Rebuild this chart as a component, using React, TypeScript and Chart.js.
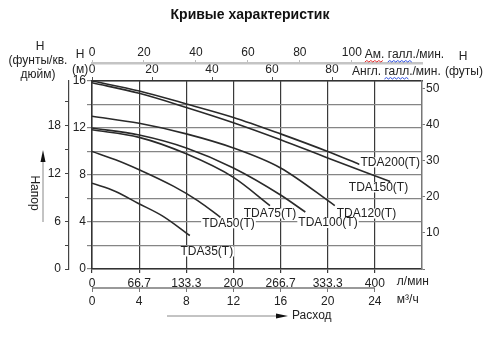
import React, { useEffect, useRef } from "react";
import { Chart, registerables } from "chart.js";

Chart.register(...registerables);

// ---- axis ticks ----
const FLOW_TICKS = [0, 4, 8, 12, 16, 20, 24]; // m3/h
const LPM_LABELS = ["0", "66.7", "133.3", "200", "266.7", "333.3", "400"]; // l/min
const HEAD_M_TICKS = [0, 2, 4, 6, 8, 10, 12, 14, 16];
const PSI_TICKS = [0, 3, 6, 9, 12, 15, 18, 21];
const FT_TICKS = [0, 10, 20, 30, 40, 50];
const IGPM_TICKS = [0, 20, 40, 60, 80];
const USGPM_TICKS = [0, 20, 40, 60, 80, 100];

// ---- series (flow m3/h, head m) ----
const MODELS = ["TDA200(T)", "TDA150(T)", "TDA120(T)", "TDA100(T)", "TDA75(T)", "TDA50(T)", "TDA35(T)"];
const TDA200_FLOW = [0, 4, 8, 12, 16, 20, 22.7];
const TDA200_HEAD = [16, 15.15, 14.05, 12.9, 11.5, 10.0, 8.9];
const TDA150_FLOW = [0, 4, 8, 12, 16, 20, 25.3];
const TDA150_HEAD = [15.85, 14.95, 13.75, 12.45, 11.0, 9.45, 7.45];
const TDA120_FLOW = [0, 4, 8, 12, 16, 20.6];
const TDA120_HEAD = [13.0, 12.4, 11.5, 10.3, 8.6, 5.4];
const TDA100_FLOW = [0, 4, 8, 12, 16, 18.1];
const TDA100_HEAD = [12.0, 11.4, 10.3, 8.6, 6.3, 4.85];
const TDA75_FLOW = [0, 4, 8, 12, 15.1];
const TDA75_HEAD = [11.85, 11.2, 9.8, 7.8, 5.4];
const TDA50_FLOW = [0, 2, 4, 6.9, 9, 10.9];
const TDA50_HEAD = [10.0, 9.3, 8.45, 7.05, 5.8, 4.4];
const TDA35_FLOW = [0, 2, 3.9, 6, 8.3];
const TDA35_HEAD = [7.3, 6.6, 5.6, 4.5, 2.85];

const SERIES_FLOW = [TDA200_FLOW, TDA150_FLOW, TDA120_FLOW, TDA100_FLOW, TDA75_FLOW, TDA50_FLOW, TDA35_FLOW];
const SERIES_HEAD = [TDA200_HEAD, TDA150_HEAD, TDA120_HEAD, TDA100_HEAD, TDA75_HEAD, TDA50_HEAD, TDA35_HEAD];

// label placement relative to the end of each curve (pixels)
const LABEL_PLACE: { align: CanvasTextAlign; dx: number; dy: number }[] = [
  { align: "left", dx: 1, dy: -2 },
  { align: "right", dx: 18, dy: 6 },
  { align: "left", dx: 2, dy: 8 },
  { align: "left", dx: -7, dy: 11 },
  { align: "center", dx: 0, dy: 8 },
  { align: "center", dx: 8, dy: 6 },
  { align: "center", dx: 17, dy: 16 },
];

const FONT = "'Liberation Sans', Arial, sans-serif";
const TXT = "#222";

function fixTicks(values: number[]) {
  return (s: any) => {
    s.ticks = values.map((v) => ({ value: v }));
  };
}

function squiggle(ctx: CanvasRenderingContext2D, x1: number, x2: number, y: number, color: string) {
  ctx.save();
  ctx.strokeStyle = color;
  ctx.lineWidth = 1;
  ctx.beginPath();
  let up = true;
  ctx.moveTo(x1, y);
  for (let x = x1 + 2; x <= x2; x += 2) {
    ctx.lineTo(x, up ? y - 1.5 : y);
    up = !up;
  }
  ctx.stroke();
  ctx.restore();
}

const annotPlugin = {
  id: "annot",
  afterDatasetsDraw(chart: any) {
    const ctx: CanvasRenderingContext2D = chart.ctx;
    const xs = chart.scales.x;
    const ys = chart.scales.y;
    ctx.save();
    ctx.font = `12px ${FONT}`;
    ctx.textBaseline = "middle";
    MODELS.forEach((name, i) => {
      const fl = SERIES_FLOW[i];
      const hd = SERIES_HEAD[i];
      const px = xs.getPixelForValue(fl[fl.length - 1]);
      const py = ys.getPixelForValue(hd[hd.length - 1]);
      const p = LABEL_PLACE[i];
      const w = ctx.measureText(name).width;
      const tx = px + p.dx;
      const ty = py + p.dy;
      let left = tx;
      if (p.align === "center") left = tx - w / 2;
      if (p.align === "right") left = tx - w;
      ctx.fillStyle = "#fff";
      ctx.fillRect(left - 1, ty - 5, w + 2, 10);
      ctx.fillStyle = TXT;
      ctx.textAlign = p.align;
      ctx.fillText(name, tx, ty);
    });
    ctx.restore();
  },
  afterDraw(chart: any) {
    const ctx: CanvasRenderingContext2D = chart.ctx;
    const ca = chart.chartArea;
    const { x, x2, xus, xig } = chart.scales;
    ctx.save();
    // title
    ctx.fillStyle = "#111";
    ctx.font = `bold 14px ${FONT}`;
    ctx.textAlign = "center";
    ctx.textBaseline = "middle";
    ctx.fillText("Кривые характеристик", 250, 15);

    ctx.font = `12px ${FONT}`;
    ctx.fillStyle = TXT;
    // left unit labels
    ctx.fillText("H", 40, 47);
    ctx.fillText("(фунты/кв.", 38, 61);
    ctx.fillText("дюйм)", 38, 75);
    ctx.fillText("H", ca.left - 12, 55);
    ctx.fillText("(м)", ca.left - 12, 70);
    // right unit labels
    ctx.fillText("H", 463, 57);
    ctx.fillText("(футы)", 464, 72);

    // top axis titles
    ctx.textAlign = "left";
    const usX = xus.getPixelForValue(100) + 13;
    ctx.fillText("Ам. галл./мин.", usX, 55);
    const igX = xig.getPixelForValue(80) + 20;
    ctx.fillText("Англ. галл./мин.", igX, 72);
    // spell-check squiggles
    const amW = ctx.measureText("Ам.").width;
    const galW = ctx.measureText("галл").width;
    const spW = ctx.measureText("Ам. ").width;
    squiggle(ctx, usX, usX + amW, 62, "#e03030");
    squiggle(ctx, usX + spW, usX + spW + galW, 62, "#3050e0");
    const anW = ctx.measureText("Англ. ").width;
    squiggle(ctx, igX + anW, igX + anW + galW, 79, "#3050e0");

    // bottom axis units
    const unitX = x.getPixelForValue(24) + 22;
    ctx.fillText("л/мин", unitX, 282);
    ctx.fillText("м³/ч", unitX, 300);

    // m3/h axis line (only up to last tick)
    ctx.strokeStyle = "#777";
    ctx.lineWidth = 1.5;
    ctx.beginPath();
    ctx.moveTo(x2.getPixelForValue(0), x2.top);
    ctx.lineTo(x2.getPixelForValue(24), x2.top);
    ctx.stroke();

    // Расход arrow
    ctx.strokeStyle = "#888";
    ctx.lineWidth = 1;
    ctx.beginPath();
    ctx.moveTo(167, 316);
    ctx.lineTo(278, 316);
    ctx.stroke();
    ctx.fillStyle = "#111";
    ctx.beginPath();
    ctx.moveTo(288, 316);
    ctx.lineTo(276, 313.5);
    ctx.lineTo(276, 318.5);
    ctx.closePath();
    ctx.fill();
    ctx.fillStyle = TXT;
    ctx.fillText("Расход", 292, 316);

    // Напор arrow
    ctx.strokeStyle = "#888";
    ctx.beginPath();
    ctx.moveTo(43, 222);
    ctx.lineTo(43, 160);
    ctx.stroke();
    ctx.fillStyle = "#111";
    ctx.beginPath();
    ctx.moveTo(43, 150);
    ctx.lineTo(40.5, 162);
    ctx.lineTo(45.5, 162);
    ctx.closePath();
    ctx.fill();
    ctx.save();
    ctx.translate(34, 193);
    ctx.rotate(Math.PI / 2);
    ctx.textAlign = "center";
    ctx.fillStyle = TXT;
    ctx.fillText("Напор", 0, 0);
    ctx.restore();

    ctx.restore();
  },
};

export default function App() {
  const ref = useRef<HTMLCanvasElement | null>(null);

  useEffect(() => {
    if (!ref.current) return;
    const tickFont = { family: FONT, size: 12 };
    const datasets = MODELS.map((name, i) => ({
      label: name,
      data: SERIES_FLOW[i].map((f, j) => ({ x: f, y: SERIES_HEAD[i][j] })),
      borderColor: "#2a2a2a",
      borderWidth: 1.6,
      pointRadius: 0,
      fill: false,
      cubicInterpolationMode: "monotone" as const,
      xAxisID: "x",
      yAxisID: "y",
    }));

    const chart = new Chart(ref.current, {
      type: "line",
      data: { datasets },
      options: {
        animation: false,
        responsive: false,
        maintainAspectRatio: false,
        layout: { padding: { left: 39, right: 48, top: 43, bottom: 46 } },
        plugins: { legend: { display: false }, tooltip: { enabled: false }, title: { display: false } },
        scales: {
          x: {
            type: "linear",
            position: "bottom",
            weight: 0,
            min: 0,
            max: 28,
            afterBuildTicks: fixTicks(FLOW_TICKS),
            afterFit: (s: any) => {
              s.height = 19;
            },
            ticks: {
              font: tickFont,
              color: TXT,
              padding: 3,
              maxRotation: 0,
              autoSkip: false,
              callback: (v: any) => LPM_LABELS[FLOW_TICKS.indexOf(Number(v))],
            },
            grid: { color: "#3a3a3a", lineWidth: 1.2, tickLength: 4 },
            border: { color: "#333", width: 1.5 },
          },
          x2: {
            type: "linear",
            position: "bottom",
            weight: 1,
            min: 0,
            max: 28,
            afterBuildTicks: fixTicks(FLOW_TICKS),
            afterFit: (s: any) => {
              s.height = 20;
            },
            ticks: { font: tickFont, color: TXT, padding: 2, maxRotation: 0, autoSkip: false },
            grid: { drawOnChartArea: false, color: "#777", tickLength: 4 },
            border: { display: false },
          },
          xig: {
            type: "linear",
            position: "top",
            weight: 0,
            min: 0,
            max: 110,
            afterBuildTicks: fixTicks(IGPM_TICKS),
            afterFit: (s: any) => {
              s.height = 18;
            },
            ticks: { font: tickFont, color: TXT, padding: 0, maxRotation: 0, autoSkip: false },
            grid: { drawOnChartArea: false, color: "#555", tickLength: 4 },
            border: { color: "#333", width: 1.5 },
          },
          xus: {
            type: "linear",
            position: "top",
            weight: 1,
            min: 0,
            max: 127,
            afterBuildTicks: fixTicks(USGPM_TICKS),
            afterFit: (s: any) => {
              s.height = 20;
            },
            ticks: { font: tickFont, color: TXT, padding: 0, maxRotation: 0, autoSkip: false },
            grid: { drawOnChartArea: false, color: "#bbb", tickLength: 3 },
            border: { color: "#c4c4c4", width: 2.5 },
          },
          y: {
            type: "linear",
            position: "left",
            weight: 0,
            min: 0,
            max: 16,
            afterBuildTicks: fixTicks(HEAD_M_TICKS),
            afterFit: (s: any) => {
              s.width = 23;
            },
            ticks: {
              font: tickFont,
              color: TXT,
              padding: 1,
              autoSkip: false,
              callback: (v: any) => (Number(v) % 4 === 0 ? String(v) : ""),
            },
            grid: { color: "#858585", lineWidth: 1.2, tickLength: 5 },
            border: { color: "#333", width: 1.5 },
          },
          ypsi: {
            type: "linear",
            position: "left",
            weight: 1,
            min: 0,
            max: 23.6,
            afterBuildTicks: fixTicks(PSI_TICKS),
            afterFit: (s: any) => {
              s.width = 30;
            },
            ticks: {
              font: tickFont,
              color: TXT,
              padding: 4,
              autoSkip: false,
              callback: (v: any) => (Number(v) % 6 === 0 ? String(v) : ""),
            },
            grid: { drawOnChartArea: false, color: "#444", tickLength: 4 },
            border: { color: "#444", width: 1.2 },
          },
          yft: {
            type: "linear",
            position: "right",
            min: 0,
            max: 52,
            afterBuildTicks: fixTicks(FT_TICKS),
            afterFit: (s: any) => {
              s.width = 30;
            },
            ticks: {
              font: tickFont,
              color: TXT,
              padding: 1,
              autoSkip: false,
              callback: (v: any) => (Number(v) === 0 ? "" : String(v)),
            },
            grid: { drawOnChartArea: false, color: "#777", tickLength: 3 },
            border: { color: "#777", width: 1.5 },
          },
        },
      } as any,
      plugins: [annotPlugin],
    });
    return () => chart.destroy();
  }, []);

  return (
    <div style={{ position: "absolute", left: 0, top: 0, width: 500, height: 354, background: "#fff" }}>
      <canvas ref={ref} width={500} height={354} style={{ display: "block" }} />
    </div>
  );
}
